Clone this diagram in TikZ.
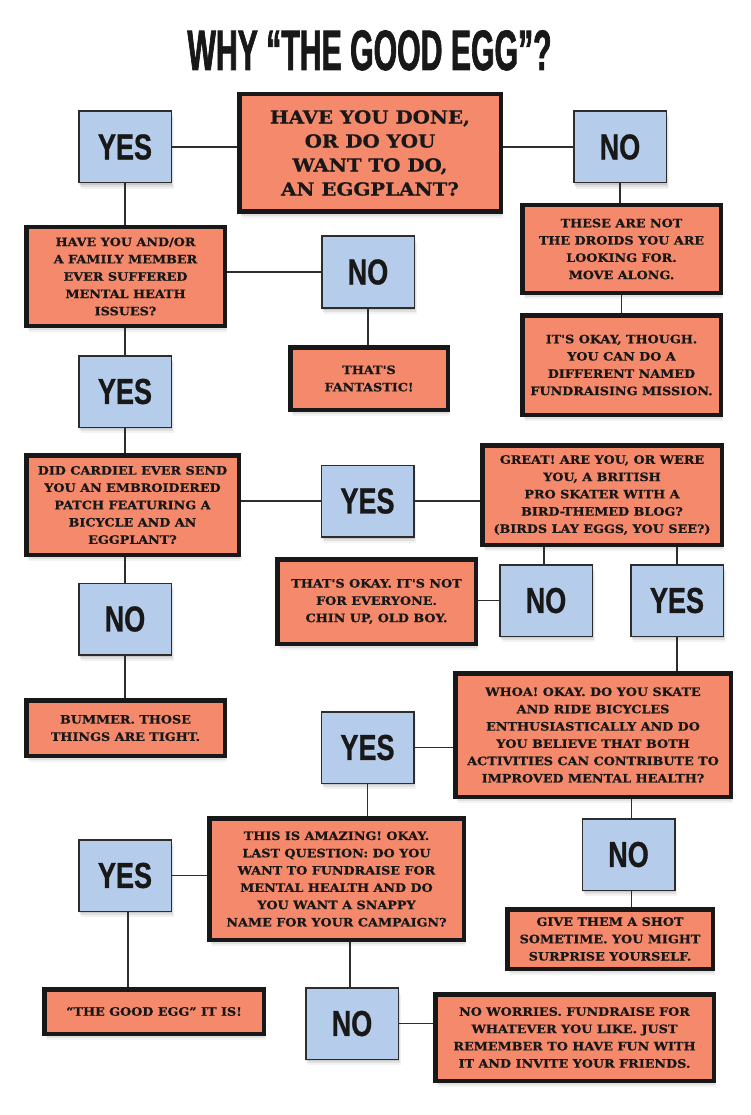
\documentclass[tikz,border=0pt]{standalone}
\usepackage{fontspec}
\usetikzlibrary{shadows}
\newfontfamily\titlefont{Liberation Sans}[FakeStretch=0.53, BoldFeatures={FakeBold=1.2}]
\newfontfamily\ynfont{Liberation Sans}[FakeStretch=0.75, BoldFeatures={FakeBold=0.8}]
\newfontfamily\boxfont{DejaVu Serif}[FakeStretch=1.1, BoldFeatures={FakeBold=0.6}]
\definecolor{eggorange}{RGB}{244,137,108}
\definecolor{eggblue}{RGB}{181,204,234}
\definecolor{ink}{RGB}{24,24,24}
\definecolor{edge}{RGB}{45,45,45}
\tikzset{
  softshadow/.style={
    drop shadow={shadow xshift=0.5pt,shadow yshift=-2pt,opacity=0.10,fill=black},
    drop shadow={shadow xshift=1.5pt,shadow yshift=-4pt,opacity=0.07,fill=black},
    drop shadow={shadow xshift=2.5pt,shadow yshift=-6pt,opacity=0.05,fill=black}},
  obox/.style={draw=ink, line width=4.5pt, fill=eggorange, align=center,
    inner sep=0pt, text=ink, softshadow,
    font=\boxfont\bfseries\fontsize{11.6}{17.3}\selectfont},
  obig/.style={obox, font=\boxfont\bfseries\fontsize{18}{24}\selectfont},
  ybox/.style={draw=edge, line width=1.5pt, fill=eggblue, inner sep=0pt,
    minimum width=92.5pt, minimum height=71.5pt, text=ink, softshadow,
    font=\ynfont\bfseries\fontsize{36}{36}\selectfont},
  link/.style={draw=edge, line width=1.5pt}
}
\begin{document}
\begin{tikzpicture}[x=1pt,y=-1pt]
\fill[white] (0,0) rectangle (750,1115);
\useasboundingbox (0,0) rectangle (750,1115);

\node[anchor=base, inner sep=0pt, text=ink, font=\titlefont\bfseries\fontsize{57}{57}\selectfont] (title) at (369.5,70) {WHY “THE GOOD EGG”?};

% orange question / answer boxes
\node[obig, minimum width=261.5pt, minimum height=117.5pt] (q1) at (370,153) {HAVE YOU DONE,\\OR DO YOU\\WANT TO DO,\\AN EGGPLANT?};
\node[obox, minimum width=198.5pt, minimum height=98.5pt] (q2) at (125.5,276.5) {HAVE YOU AND/OR\\A FAMILY MEMBER\\EVER SUFFERED\\MENTAL HEATH\\ISSUES?};
\node[obox, minimum width=157.5pt, minimum height=62.5pt] (fant) at (369,378.5) {THAT'S\\FANTASTIC!};
\node[obox, minimum width=198.5pt, minimum height=87.5pt] (droids) at (621.5,249) {THESE ARE NOT\\THE DROIDS YOU ARE\\LOOKING FOR.\\MOVE ALONG.};
\node[obox, minimum width=198.5pt, minimum height=99.5pt] (okay) at (621.5,365) {IT'S OKAY, THOUGH.\\YOU CAN DO A\\DIFFERENT NAMED\\FUNDRAISING MISSION.};
\node[obox, minimum width=212.5pt, minimum height=99.5pt] (q3) at (132.5,505) {DID CARDIEL EVER SEND\\YOU AN EMBROIDERED\\PATCH FEATURING A\\BICYCLE AND AN\\EGGPLANT?};
\node[obox, minimum width=239.5pt, minimum height=99.5pt] (q4) at (602,495) {GREAT! ARE YOU, OR WERE\\YOU, A BRITISH\\PRO SKATER WITH A\\BIRD-THEMED BLOG?\\(BIRDS LAY EGGS, YOU SEE?)};
\node[obox, minimum width=198.5pt, minimum height=84.5pt] (chin) at (376.5,601.5) {THAT'S OKAY. IT'S NOT\\FOR EVERYONE.\\CHIN UP, OLD BOY.};
\node[obox, minimum width=198.5pt, minimum height=55.5pt] (bummer) at (125.5,728) {BUMMER. THOSE\\THINGS ARE TIGHT.};
\node[obox, minimum width=275.5pt, minimum height=123.5pt] (whoa) at (593,735) {WHOA! OKAY. DO YOU SKATE\\AND RIDE BICYCLES\\ENTHUSIASTICALLY AND DO\\YOU BELIEVE THAT BOTH\\ACTIVITIES CAN CONTRIBUTE TO\\IMPROVED MENTAL HEALTH?};
\node[obox, minimum width=254.5pt, minimum height=121.5pt] (q5) at (336.5,879) {THIS IS AMAZING! OKAY.\\LAST QUESTION: DO YOU\\WANT TO FUNDRAISE FOR\\MENTAL HEALTH AND DO\\YOU WANT A SNAPPY\\NAME FOR YOUR CAMPAIGN?};
\node[obox, minimum width=219.5pt, minimum height=44.5pt] (goodegg) at (154,1011.5) {“THE GOOD EGG” IT IS!};
\node[obox, minimum width=205.5pt, minimum height=59.5pt] (shot) at (610,939) {GIVE THEM A SHOT\\SOMETIME. YOU MIGHT\\SURPRISE YOURSELF.};
\node[obox, minimum width=278.5pt, minimum height=86.5pt] (worries) at (574.5,1037.5) {NO WORRIES. FUNDRAISE FOR\\WHATEVER YOU LIKE. JUST\\REMEMBER TO HAVE FUN WITH\\IT AND INVITE YOUR FRIENDS.};

% blue yes / no boxes
\node[ybox] (yes1) at (125,147) {YES};
\node[ybox] (no1) at (620,147) {NO};
\node[ybox] (no2) at (368,272) {NO};
\node[ybox] (yes2) at (125,391.5) {YES};
\node[ybox] (yes3) at (367.5,501) {YES};
\node[ybox] (no3) at (546,600.5) {NO};
\node[ybox] (yes4) at (677,600.5) {YES};
\node[ybox] (no4) at (125,619) {NO};
\node[ybox] (yes5) at (367.5,747.5) {YES};
\node[ybox] (no5) at (628.5,854.5) {NO};
\node[ybox] (yes6) at (125,875.5) {YES};
\node[ybox] (no6) at (352,1023.5) {NO};

% connectors
\draw[link] (yes1.east) -- (yes1.east -| q1.west);
\draw[link] (no1.west) -- (no1.west -| q1.east);
\draw[link] (yes1.south) -- (yes1.south |- q2.north);
\draw[link] (no1.south) -- (no1.south |- droids.north);
\draw[link] (droids.south) -- (droids.south |- okay.north);
\draw[link] (no2.west) -- (no2.west -| q2.east);
\draw[link] (no2.south) -- (no2.south |- fant.north);
\draw[link] (yes2.north) -- (yes2.north |- q2.south);
\draw[link] (yes2.south) -- (yes2.south |- q3.north);
\draw[link] (yes3.west) -- (yes3.west -| q3.east);
\draw[link] (yes3.east) -- (yes3.east -| q4.west);
\draw[link] ([xshift=-2pt]no3.north) -- ([xshift=-2pt]no3.north |- q4.south);
\draw[link] (yes4.north) -- (yes4.north |- q4.south);
\draw[link] (no3.west) -- (no3.west -| chin.east);
\draw[link] (no4.north) -- (no4.north |- q3.south);
\draw[link] (no4.south) -- (no4.south |- bummer.north);
\draw[link] (yes4.south) -- (yes4.south |- whoa.north);
\draw[link] (yes5.east) -- (yes5.east -| whoa.west);
\draw[link] (yes5.south) -- (yes5.south |- q5.north);
\draw[link] ([xshift=3pt]no5.north) -- ([xshift=3pt]no5.north |- whoa.south);
\draw[link] ([xshift=3pt]no5.south) -- ([xshift=3pt]no5.south |- shot.north);
\draw[link] (yes6.east) -- (yes6.east -| q5.west);
\draw[link] ([xshift=3pt]yes6.south) -- ([xshift=3pt]yes6.south |- goodegg.north);
\draw[link] ([xshift=-2pt]no6.north) -- ([xshift=-2pt]no6.north |- q5.south);
\draw[link] (no6.east) -- (no6.east -| worries.west);
\end{tikzpicture}
\end{document}
